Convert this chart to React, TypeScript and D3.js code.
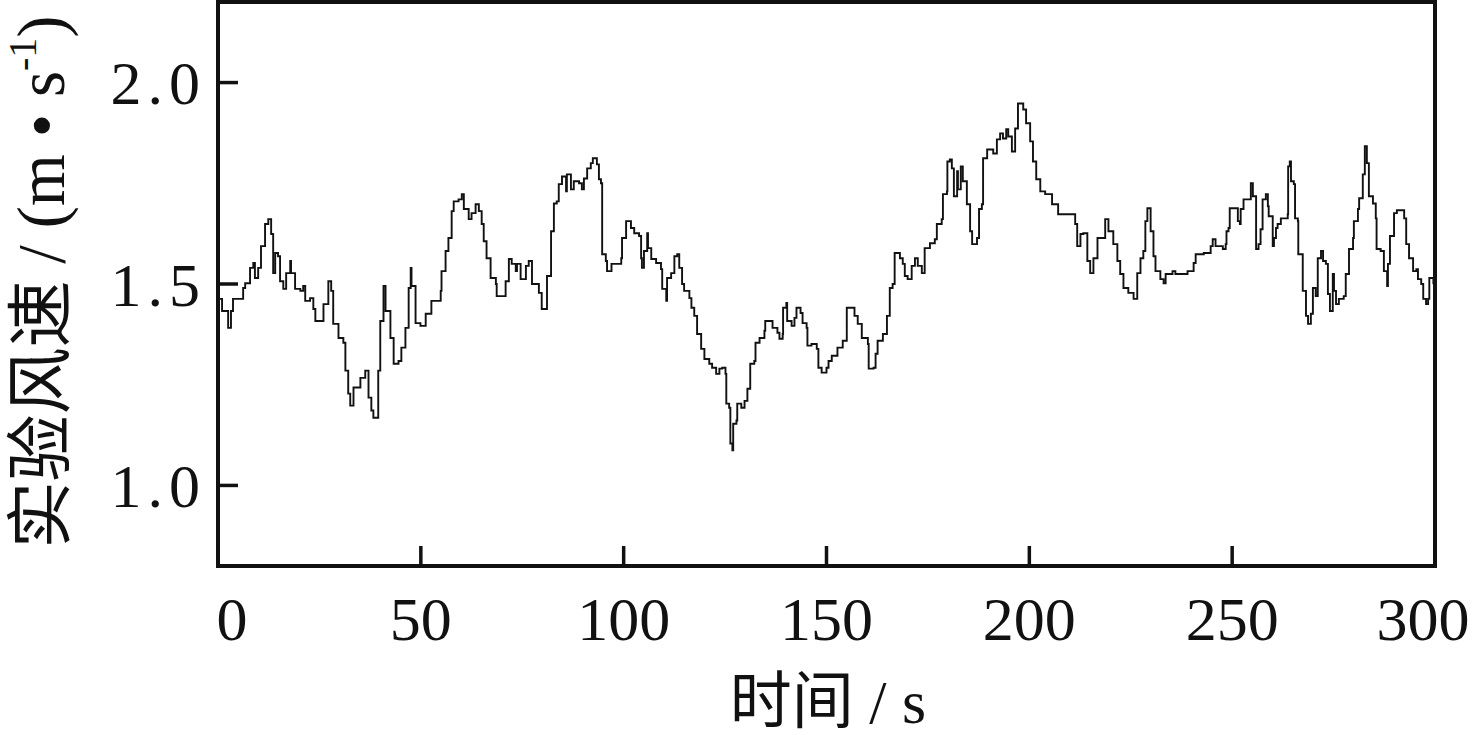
import React, { useEffect, useRef } from "react";
import * as d3 from "d3";

// [time (s), wind speed (m/s)]
const seg0to100: [number, number][] = [
  [0,1.463],[1.0,1.433],[2.5,1.391],[3.2,1.433],[3.7,1.463],[6.2,1.490],[6.7,1.502],[7.9,1.540],[8.7,1.552],[9.1,1.515],[9.9,1.540],[10.6,1.594],[11.6,1.649],[12.4,1.661],[13.1,1.624],[13.6,1.527],[14.1,1.577],[14.8,1.569],[15.3,1.507],[16.1,1.488],[16.8,1.527],[17.8,1.557],[18.0,1.527],[19.0,1.488],[20.3,1.483],[21.0,1.495],[21.5,1.458],[22.7,1.465],[23.5,1.438],[24.0,1.408],[25.5,1.408],[26.0,1.450],[27.2,1.507],[27.9,1.483],[28.4,1.401],[29.7,1.366],[30.9,1.354],[31.4,1.285],[32.1,1.228],[32.6,1.198],[33.4,1.243],[35.1,1.267],[36.3,1.285],[37.1,1.218],[37.8,1.186],[38.3,1.168],[39.5,1.285],[40.0,1.408],[40.8,1.495],[41.3,1.433],[42.5,1.366],[43.3,1.302],[44.5,1.309],[45.2,1.342],[46.2,1.391],[47.0,1.490],[47.5,1.540],[47.7,1.495],[48.7,1.403],[49.9,1.396],[51.2,1.426],[52.6,1.458],[54.9,1.483],[55.1,1.532],[56.1,1.582],[56.8,1.614],[57.6,1.681],[58.1,1.705],[59.3,1.710],[60.1,1.723],[60.6,1.686],[61.8,1.661],[62.5,1.676],[63.5,1.698],[64.3,1.681],[65.0,1.649],[65.5,1.606],[66.2,1.564],[67.2,1.515],[68.5,1.500],[68.7,1.470],[70.4,1.470],[70.9,1.507],[71.7,1.562],[72.4,1.550],[73.4,1.532],[73.7,1.550],[74.6,1.512],[75.9,1.545],[76.6,1.557],[77.4,1.500],[79.1,1.478],[79.8,1.438],[80.8,1.438],[81.1,1.520],[82.1,1.631],[82.8,1.700],[83.5,1.705],[84.0,1.748],[84.8,1.767],[85.8,1.730],[86.0,1.772],[87.0,1.735],[87.7,1.755],[89.0,1.750],[89.7,1.735],[90.2,1.762],[91.0,1.787],[91.9,1.800],[92.4,1.812],[93.4,1.797],[93.9,1.760],[94.4,1.750],[94.7,1.574],[95.6,1.557],[95.9,1.532],[96.9,1.532],[97.0,1.550],[98.9,1.550],[99.4,1.564],[99.6,1.614],
];

const seg100to200: [number, number][] = [
  [100.6,1.656],[101.8,1.639],[102.6,1.626],[103.8,1.619],[104.3,1.564],[104.5,1.540],[105.0,1.582],[105.8,1.626],[106.0,1.589],[106.8,1.562],[108.0,1.552],[109.2,1.537],[109.5,1.488],[110.5,1.458],[110.7,1.515],[111.7,1.527],[112.5,1.569],[113.2,1.574],[113.7,1.540],[114.4,1.500],[114.9,1.483],[116.2,1.465],[116.7,1.441],[117.4,1.421],[118.1,1.376],[119.1,1.339],[119.9,1.314],[121.1,1.302],[121.8,1.292],[122.8,1.277],[123.6,1.290],[124.3,1.292],[125.1,1.277],[125.3,1.203],[126.0,1.193],[126.3,1.104],[126.8,1.087],[127.0,1.153],[127.8,1.161],[128.0,1.203],[129.0,1.193],[129.8,1.210],[130.5,1.240],[131.2,1.302],[132.2,1.309],[132.5,1.354],[133.5,1.366],[134.7,1.384],[134.9,1.408],[136.4,1.408],[136.7,1.391],[137.9,1.379],[138.4,1.364],[139.2,1.376],[139.3,1.441],[140.1,1.453],[140.3,1.408],[141.4,1.396],[142.1,1.416],[142.6,1.441],[143.6,1.428],[144.1,1.403],[145.1,1.391],[145.3,1.347],[146.3,1.351],[147.6,1.339],[148.0,1.292],[148.8,1.280],[150.0,1.292],[150.5,1.309],[151.3,1.322],[152.0,1.322],[152.7,1.342],[154.0,1.359],[155.0,1.441],[156.4,1.441],[156.9,1.421],[157.7,1.401],[158.7,1.366],[160.2,1.351],[160.4,1.290],[161.6,1.292],[162.1,1.327],[162.6,1.359],[163.9,1.376],[164.9,1.421],[165.6,1.490],[166.3,1.500],[166.8,1.577],[168.1,1.564],[168.8,1.550],[169.3,1.520],[170.0,1.512],[171.0,1.545],[171.8,1.564],[172.5,1.545],[173.5,1.527],[174.2,1.589],[175.5,1.601],[176.7,1.611],[177.2,1.649],[178.4,1.661],[178.7,1.723],[179.7,1.730],[179.8,1.804],[180.4,1.809],[180.9,1.787],[181.4,1.718],[182.2,1.780],[182.4,1.735],[183.1,1.792],[183.6,1.755],[184.6,1.698],[185.4,1.631],[185.9,1.599],[187.1,1.614],[187.6,1.686],[188.3,1.698],[188.6,1.812],[189.6,1.834],[191.1,1.824],[192.0,1.859],[192.8,1.874],[193.5,1.861],[194.3,1.884],[194.8,1.866],[195.7,1.829],[196.5,1.886],[197.2,1.948],[198.5,1.933],[199.2,1.899],
];

const seg200to300: [number, number][] = [
  [200.2,1.854],[200.9,1.804],[201.7,1.760],[202.7,1.730],[203.9,1.723],[205.6,1.698],[207.1,1.673],[210.6,1.673],[211.3,1.649],[211.8,1.594],[212.6,1.624],[213.3,1.626],[214.3,1.557],[215.0,1.527],[215.8,1.564],[216.8,1.614],[218.0,1.614],[218.7,1.661],[219.5,1.631],[220.7,1.599],[221.7,1.557],[222.4,1.525],[223.2,1.490],[224.4,1.478],[225.7,1.463],[226.6,1.527],[227.4,1.564],[228.1,1.582],[228.6,1.656],[229.1,1.688],[229.9,1.631],[230.6,1.569],[231.1,1.532],[232.3,1.512],[233.1,1.502],[233.6,1.525],[235.3,1.532],[236.0,1.525],[237.8,1.525],[239.0,1.532],[240.5,1.552],[241.0,1.574],[243.0,1.577],[244.7,1.594],[245.2,1.611],[245.9,1.594],[247.7,1.587],[248.4,1.599],[248.6,1.631],[249.1,1.639],[249.4,1.688],[250.9,1.688],[251.4,1.656],[251.9,1.649],[252.1,1.686],[252.8,1.710],[254.1,1.710],[254.6,1.750],[255.1,1.718],[255.8,1.718],[255.9,1.587],[256.5,1.599],[257.0,1.636],[257.5,1.710],[258.3,1.723],[258.8,1.693],[259.0,1.668],[260.0,1.594],[260.3,1.614],[260.8,1.639],[261.2,1.649],[262.0,1.663],[263.7,1.673],[263.8,1.792],[264.2,1.804],[264.5,1.755],[265.2,1.748],[265.5,1.663],[266.2,1.656],[266.3,1.574],[267.4,1.483],[268.2,1.421],[268.7,1.401],[269.4,1.426],[269.9,1.490],[270.6,1.470],[271.1,1.564],[271.9,1.582],[272.4,1.557],[273.1,1.550],[273.6,1.475],[274.1,1.433],[274.8,1.525],[275.1,1.483],[275.6,1.450],[276.3,1.463],[277.5,1.470],[278.0,1.525],[278.8,1.587],[279.8,1.614],[280.0,1.656],[281.0,1.686],[281.3,1.713],[282.2,1.772],[282.7,1.842],[283.2,1.800],[283.7,1.718],[284.7,1.700],[285.4,1.663],[285.6,1.587],[286.6,1.582],[287.4,1.532],[288.2,1.495],[288.4,1.550],[288.9,1.619],[289.9,1.676],[290.6,1.683],[292.4,1.663],[292.9,1.599],[293.6,1.564],[294.6,1.532],[295.4,1.537],[295.8,1.512],[296.6,1.500],[297.1,1.463],[297.8,1.450],[298.3,1.463],[298.6,1.515],[299.6,1.502],[300.0,1.500],
];

const xTicks = [0, 50, 100, 150, 200, 250, 300];
const yTicks = [1.0, 1.5, 2.0];
const xDomain: [number, number] = [0, 300];
const yDomain: [number, number] = [0.8, 2.2];
const xTitle = "时间 / s";
const yTitleMain = "实验风速 / (m • s";
const yTitleSup = "-1";
const yTitleEnd = ")";

const W = 1472;
const H = 735;
const M = { left: 218, right: 1435, top: 2, bottom: 566 };
const FONT = "'Liberation Serif', 'Times New Roman', 'Noto Sans CJK SC', serif";

export default function App() {
  const ref = useRef<SVGSVGElement | null>(null);

  useEffect(() => {
    const svg = d3.select(ref.current);
    svg.selectAll("*").remove();

    const x = d3.scaleLinear().domain(xDomain).range([M.left, M.right]);
    const y = d3.scaleLinear().domain(yDomain).range([M.bottom, M.top]);

    const data = [...seg0to100, ...seg100to200, ...seg200to300];

    const line = d3
      .line<[number, number]>()
      .x((d) => x(d[0]))
      .y((d) => y(d[1]))
      .curve(d3.curveStepAfter);

    svg
      .append("path")
      .datum(data)
      .attr("d", line)
      .attr("fill", "none")
      .attr("stroke", "#111")
      .attr("stroke-width", 1.9)
      .attr("stroke-linejoin", "miter");

    // frame
    svg
      .append("rect")
      .attr("x", M.left)
      .attr("y", M.top)
      .attr("width", M.right - M.left)
      .attr("height", M.bottom - M.top)
      .attr("fill", "none")
      .attr("stroke", "#111")
      .attr("stroke-width", 4);

    // x ticks (inward)
    const xt = svg.append("g");
    xTicks.forEach((t, i) => {
      xt.append("line")
        .attr("x1", x(t))
        .attr("x2", x(t))
        .attr("y1", M.bottom)
        .attr("y2", M.bottom - 20)
        .attr("stroke", "#111")
        .attr("stroke-width", 3.5);
      const dx = i === 0 ? 14 : i === xTicks.length - 1 ? -12 : 0;
      xt.append("text")
        .attr("x", x(t) + dx)
        .attr("y", 640)
        .attr("text-anchor", "middle")
        .attr("font-family", FONT)
        .attr("font-size", 62)
        .attr("fill", "#111")
        .text(String(t));
    });

    // y ticks (inward)
    const yt = svg.append("g");
    yTicks.forEach((v) => {
      yt.append("line")
        .attr("x1", M.left)
        .attr("x2", M.left + 20)
        .attr("y1", y(v))
        .attr("y2", y(v))
        .attr("stroke", "#111")
        .attr("stroke-width", 3.5);
      yt.append("text")
        .attr("x", 206)
        .attr("y", y(v))
        .attr("dy", "0.35em")
        .attr("text-anchor", "end")
        .attr("font-family", FONT)
        .attr("font-size", 62)
        .attr("letter-spacing", 6)
        .attr("fill", "#111")
        .text(v.toFixed(1));
    });

    // x title
    svg
      .append("text")
      .attr("x", 828)
      .attr("y", 723)
      .attr("text-anchor", "middle")
      .attr("font-family", FONT)
      .attr("font-size", 62)
      .attr("fill", "#111")
      .text(xTitle);

    // y title
    const yTitle = svg
      .append("text")
      .attr("transform", `translate(64, 282) rotate(-90)`)
      .attr("text-anchor", "middle")
      .attr("font-family", FONT)
      .attr("font-size", 67)
      .attr("fill", "#111");
    yTitle.append("tspan").text(yTitleMain);
    yTitle
      .append("tspan")
      .attr("font-size", 40)
      .attr("dy", -28)
      .text(yTitleSup);
    yTitle.append("tspan").attr("dy", 28).text(yTitleEnd);
  }, []);

  return (
    <svg
      ref={ref}
      width={W}
      height={H}
      style={{ position: "absolute", left: 0, top: 0, background: "#fff", display: "block" }}
    />
  );
}
